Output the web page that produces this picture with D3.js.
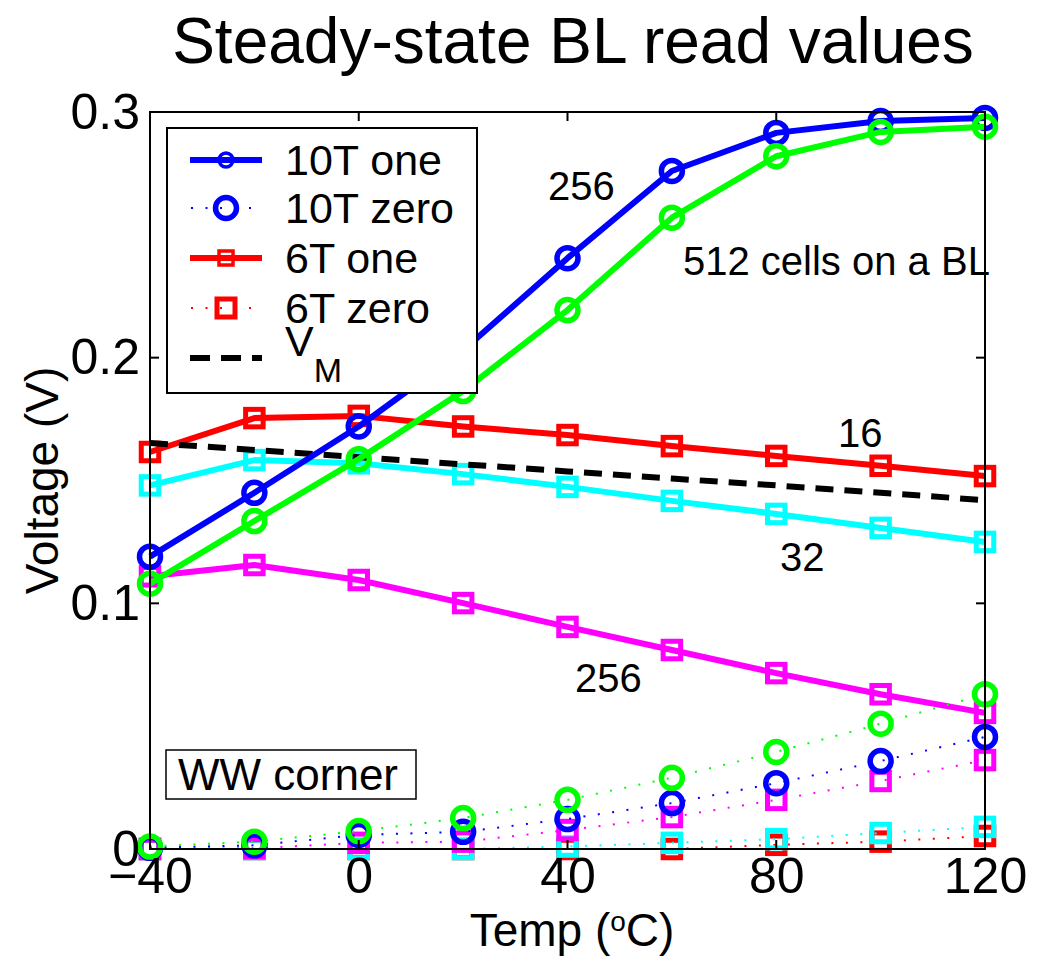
<!DOCTYPE html>
<html>
<head>
<meta charset="utf-8">
<script src="https://cdn.jsdelivr.net/npm/d3@7"></script>
<style>
  body { margin: 0; background: #fff; }
  svg { font-family: "Liberation Sans", Arial, sans-serif; }
</style>
</head>
<body>
<svg id="chart" width="1043" height="962"></svg>
<script>
// temperatures (deg C)
var temps = [-40, -20, 0, 20, 40, 60, 80, 100, 120];

// 10T cells, 256 on a BL
var t10_256_one  = [0.119, 0.145, 0.172, 0.203, 0.2405, 0.276, 0.2915, 0.2963, 0.2976];
var t10_256_zero = [0.0005, 0.0015, 0.0057, 0.007, 0.0122, 0.0187, 0.0268, 0.0358, 0.0456];
// 10T cells, 512 on a BL
var t10_512_one  = [0.108, 0.1335, 0.1587, 0.1864, 0.2194, 0.257, 0.282, 0.2919, 0.294];
var t10_512_zero = [0.001, 0.003, 0.0073, 0.0126, 0.020, 0.029, 0.0395, 0.051, 0.063];
// 6T cells, 16 / 32 / 256 on a BL
var t6_16_one   = [0.1616, 0.1754, 0.1763, 0.172, 0.1685, 0.164, 0.160, 0.156, 0.1518];
var t6_16_zero  = [0, 0, 0, 0, 0, 0, 0.0017, 0.003, 0.0053];
var t6_32_one   = [0.148, 0.1583, 0.157, 0.1526, 0.1474, 0.1417, 0.1364, 0.1307, 0.125];
var t6_32_zero  = [0, 0, 0, 0, 0.001, 0.0025, 0.004, 0.0065, 0.009];
var t6_256_one  = [0.111, 0.1156, 0.1095, 0.1001, 0.0904, 0.081, 0.0716, 0.063, 0.0554];
var t6_256_zero = [0, 0.0003, 0.0025, 0.003, 0.0077, 0.013, 0.020, 0.0277, 0.0362];
// mid-point reference voltage
var vm = [0.1653, 0.1624, 0.1595, 0.1566, 0.1537, 0.1508, 0.148, 0.145, 0.142];

var xTicks = [-40, 0, 40, 80, 120];
var yTicks = [0, 0.1, 0.2, 0.3];

var svg = d3.select('#chart');
var plotL = 150, plotR = 985, plotT = 112, plotB = 849;

var x = d3.scaleLinear().domain([-40, 120]).range([plotL, plotR]);
var y = d3.scaleLinear().domain([0, 0.3]).range([plotB, plotT]);

// draw order: 6T first, then Vm, then 10T (circles end up on top)
var series = [
    {vals: t6_16_one,   color: '#ff0000', mark: 'square', dotted: false},
    {vals: t6_16_zero,  color: '#ff0000', mark: 'square', dotted: true},
    {vals: t6_32_one,   color: '#00ffff', mark: 'square', dotted: false},
    {vals: t6_32_zero,  color: '#00ffff', mark: 'square', dotted: true},
    {vals: t6_256_one,  color: '#ff00ff', mark: 'square', dotted: false},
    {vals: t6_256_zero, color: '#ff00ff', mark: 'square', dotted: true},
    {vals: vm,          color: '#000000', mark: null,     dotted: false, dashed: true},
    {vals: t10_256_one,  color: '#0000ff', mark: 'circle', dotted: false},
    {vals: t10_256_zero, color: '#0000ff', mark: 'circle', dotted: true},
    {vals: t10_512_one,  color: '#00ff00', mark: 'circle', dotted: false},
    {vals: t10_512_zero, color: '#00ff00', mark: 'circle', dotted: true}
];

var plot = svg.append('g');

var line = d3.line()
    .x(function(d, i) { return x(temps[i]); })
    .y(function(d) { return y(d); });

function drawMarker(g, mark, color, cx, cy) {
    if (mark === 'circle') {
        g.append('circle')
            .attr('cx', cx).attr('cy', cy)
            .attr('r', 10.5)
            .attr('fill', 'none')
            .attr('stroke', color)
            .attr('stroke-width', 5.5);
    } else if (mark === 'square') {
        var s = 17.5;
        g.append('rect')
            .attr('x', cx - s / 2).attr('y', cy - s / 2)
            .attr('width', s).attr('height', s)
            .attr('fill', 'none')
            .attr('stroke', color)
            .attr('stroke-width', 5);
    }
}

series.forEach(function(s) {
    var path = plot.append('path')
        .datum(s.vals)
        .attr('d', line)
        .attr('fill', 'none')
        .attr('stroke', s.color);
    if (s.dashed) {
        path.attr('stroke-width', 6).attr('stroke-dasharray', '18,11');
    } else if (s.dotted) {
        path.attr('stroke-width', 2).attr('stroke-dasharray', '2,12.5');
    } else {
        path.attr('stroke-width', 6).attr('stroke-linejoin', 'round');
    }
    if (s.mark) {
        s.vals.forEach(function(v, i) {
            drawMarker(plot, s.mark, s.color, x(temps[i]), y(v));
        });
    }
});

// axes box
svg.append('rect')
    .attr('x', plotL).attr('y', plotT)
    .attr('width', plotR - plotL).attr('height', plotB - plotT)
    .attr('fill', 'none').attr('stroke', '#000').attr('stroke-width', 2);

var xAxis = svg.append('g')
    .attr('transform', 'translate(0,' + plotB + ')')
    .call(d3.axisBottom(x).tickValues(xTicks).tickSize(0).tickPadding(8)
        .tickFormat(function(d) { return d < 0 ? '\u2212' + Math.abs(d) : d; }));
xAxis.select('.domain').remove();
xAxis.selectAll('text').attr('font-size', 50).attr('fill', '#000').attr('font-family', 'Liberation Sans, Arial, sans-serif');

var yAxis = svg.append('g')
    .attr('transform', 'translate(' + plotL + ',0)')
    .call(d3.axisLeft(y).tickValues(yTicks).tickSize(0).tickPadding(10)
        .tickFormat(function(d) { return d === 0 ? '0' : d3.format('.1f')(d); }));
yAxis.select('.domain').remove();
yAxis.selectAll('text').attr('font-size', 50).attr('fill', '#000').attr('font-family', 'Liberation Sans, Arial, sans-serif');

// inner tick marks on all four sides
var ticks = svg.append('g').attr('stroke', '#000').attr('stroke-width', 2);
xTicks.forEach(function(t) {
    ticks.append('line').attr('x1', x(t)).attr('x2', x(t)).attr('y1', plotB).attr('y2', plotB - 9);
    ticks.append('line').attr('x1', x(t)).attr('x2', x(t)).attr('y1', plotT).attr('y2', plotT + 9);
});
yTicks.forEach(function(t) {
    ticks.append('line').attr('x1', plotL).attr('x2', plotL + 9).attr('y1', y(t)).attr('y2', y(t));
    ticks.append('line').attr('x1', plotR).attr('x2', plotR - 9).attr('y1', y(t)).attr('y2', y(t));
});

// titles
svg.append('text')
    .attr('x', 573).attr('y', 63)
    .attr('text-anchor', 'middle')
    .attr('font-size', 64)
    .text('Steady-state BL read values');

svg.append('text')
    .attr('x', 572).attr('y', 946)
    .attr('text-anchor', 'middle')
    .attr('font-size', 46)
    .html('Temp (<tspan baseline-shift="super" font-size="28">o</tspan>C)');

svg.append('text')
    .attr('transform', 'translate(58,' + ((plotT + plotB) / 2) + ') rotate(-90)')
    .attr('text-anchor', 'middle')
    .attr('font-size', 46)
    .text('Voltage (V)');

// annotations
var notes = [
    {t: '256', x: 548, y: 200},
    {t: '512 cells on a BL', x: 683, y: 275},
    {t: '16', x: 838, y: 447},
    {t: '32', x: 780, y: 571},
    {t: '256', x: 575, y: 692}
];
notes.forEach(function(n) {
    svg.append('text').attr('x', n.x).attr('y', n.y).attr('font-size', 40).text(n.t);
});

// WW corner box
svg.append('rect').attr('x', 166).attr('y', 750).attr('width', 250).attr('height', 49)
    .attr('fill', '#fff').attr('stroke', '#000').attr('stroke-width', 1.5);
svg.append('text').attr('x', 178).attr('y', 790).attr('font-size', 44).text('WW corner');

// legend
var legend = svg.append('g');
legend.append('rect').attr('x', 167).attr('y', 128).attr('width', 310).attr('height', 265)
    .attr('fill', '#fff').attr('stroke', '#000').attr('stroke-width', 2);

var legendItems = [
    {label: '10T one',  color: '#0000ff', mark: 'circle', dotted: false, y: 160},
    {label: '10T zero', color: '#0000ff', mark: 'circle', dotted: true,  y: 208},
    {label: '6T one',   color: '#ff0000', mark: 'square', dotted: false, y: 258},
    {label: '6T zero',  color: '#ff0000', mark: 'square', dotted: true,  y: 308},
    {label: 'V',        color: '#000000', mark: null,     dashed: true,  y: 358}
];
legendItems.forEach(function(it) {
    var l = legend.append('line')
        .attr('x1', 190).attr('x2', 262).attr('y1', it.y).attr('y2', it.y)
        .attr('stroke', it.color);
    if (it.dashed) l.attr('stroke-width', 6).attr('stroke-dasharray', '20,11');
    else if (it.dotted) l.attr('stroke-width', 2).attr('stroke-dasharray', '2,12.5').attr('stroke-dashoffset', -1);
    else l.attr('stroke-width', 6);
    if (it.mark) {
        if (it.mark === 'circle') {
            legend.append('circle').attr('cx', 226).attr('cy', it.y)
                .attr('r', it.dotted ? 10.5 : 7).attr('fill', 'none')
                .attr('stroke', it.color).attr('stroke-width', it.dotted ? 5.5 : 3.5);
        } else {
            var s = it.dotted ? 18 : 14;
            legend.append('rect').attr('x', 226 - s / 2).attr('y', it.y - s / 2)
                .attr('width', s).attr('height', s).attr('fill', 'none')
                .attr('stroke', it.color).attr('stroke-width', it.dotted ? 5 : 3.5);
        }
    }
    var txt = legend.append('text').attr('x', 285).attr('y', it.y + 15).attr('font-size', 43);
    if (it.dashed) {
        txt.attr('y', it.y - 2).text('V');
        txt.append('tspan').attr('dy', 26).attr('font-size', 34).text('M');
    } else {
        txt.text(it.label);
    }
});
</script>
</body>
</html>
